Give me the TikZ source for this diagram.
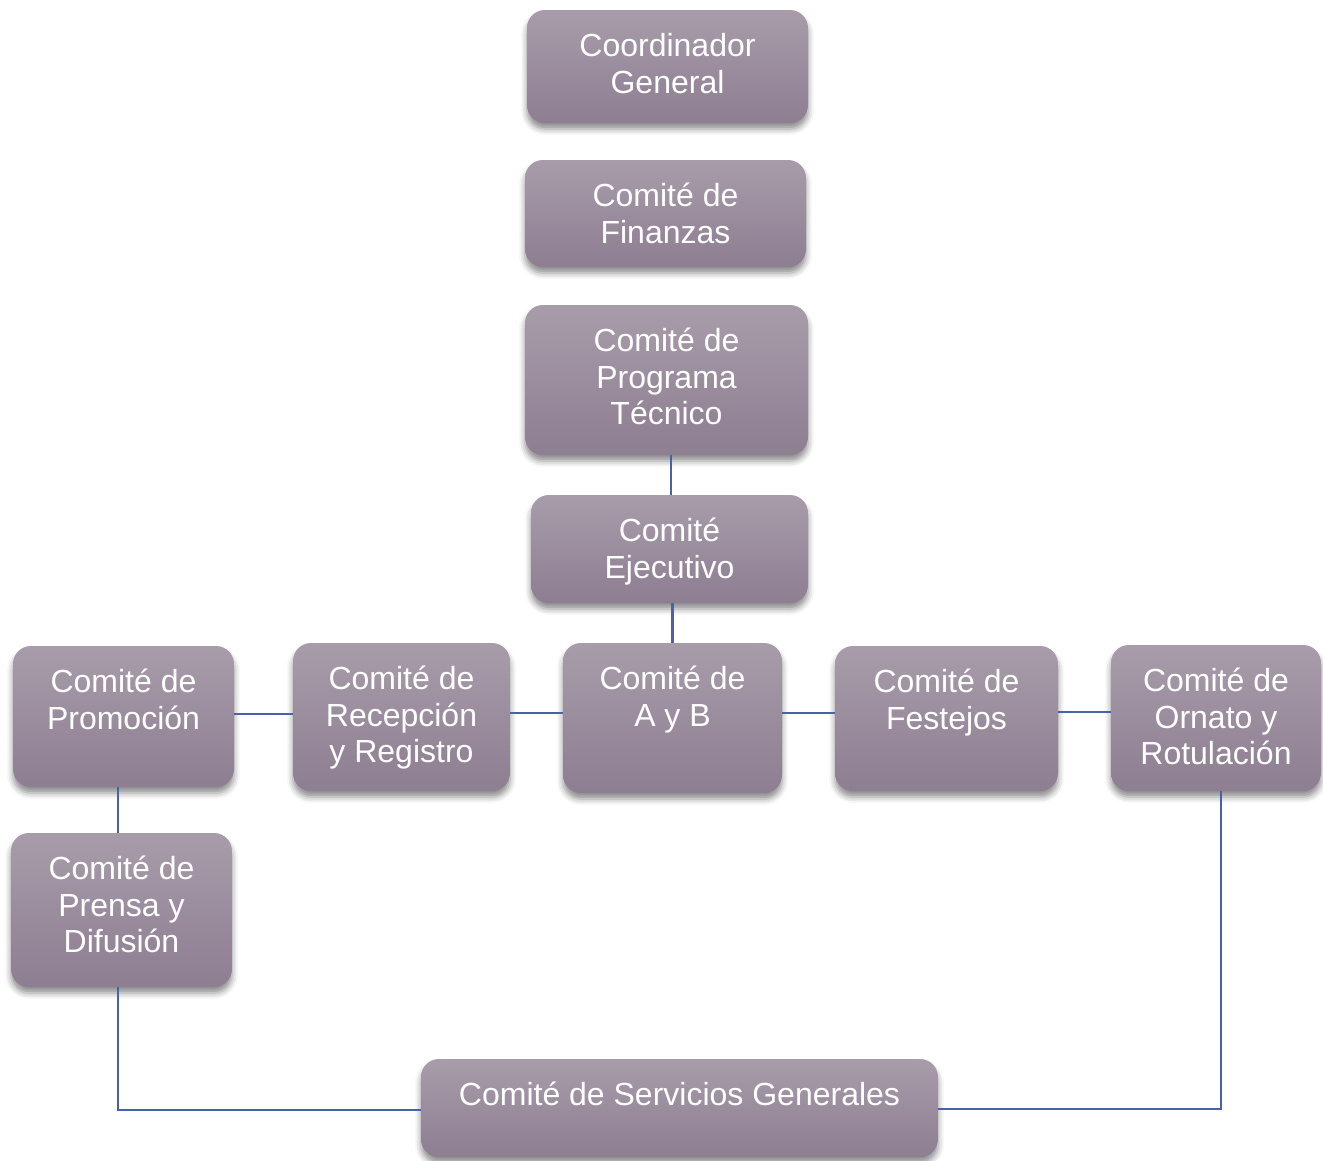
\documentclass[tikz,border=0pt]{standalone}
\usepackage{fontspec}
\setmainfont{Liberation Sans}
\usetikzlibrary{shadows.blur}
\definecolor{boxtop}{HTML}{A89CAA}
\definecolor{boxbot}{HTML}{8D7E91}
\definecolor{linkblue}{HTML}{4862AA}
\newcommand\boxtxt[3]{\parbox[c][#2pt][t]{#1pt}{\centering\vspace*{21pt}\strut #3\par}}
\tikzset{
  orgbox/.style={draw=none, rounded corners=18pt, inner sep=0pt, outer sep=0pt,
    top color=boxtop, bottom color=boxbot, text=white,
    font=\fontsize{32}{36.5}\selectfont,
    blur shadow={shadow xshift=0pt, shadow yshift=-6pt, shadow blur radius=6pt, shadow opacity=45}},
  link/.style={draw=linkblue, line width=2.2pt}
}
\begin{document}
\begin{tikzpicture}[x=1pt,y=-1pt]
\useasboundingbox (0,0) rectangle (1323,1160);
\node[orgbox] (coord) at (667.5,66.5) {\boxtxt{281}{113}{Coordinador\\General}};
\node[orgbox] (fin) at (665.5,213.5) {\boxtxt{281}{107}{Comité de\\Finanzas}};
\node[orgbox] (prog) at (666.5,380) {\boxtxt{283}{150}{Comité de\\Programa\\Técnico}};
\node[orgbox] (ejec) at (669.5,549) {\boxtxt{277}{108}{Comité\\Ejecutivo}};
\node[orgbox] (prom) at (123.5,716.5) {\boxtxt{221}{141}{Comité de\\Promoción}};
\node[orgbox] (rec) at (401.5,717) {\boxtxt{217}{148}{Comité de\\Recepción\\y Registro}};
\node[orgbox] (ayb) at (672.5,718) {\boxtxt{219}{150}{Comité de\\A y B}};
\node[orgbox] (fest) at (946.5,718.5) {\boxtxt{223}{145}{Comité de\\Festejos}};
\node[orgbox] (orn) at (1216,718) {\boxtxt{210}{146}{Comité de\\Ornato y\\Rotulación}};
\node[orgbox] (prensa) at (121.5,910) {\boxtxt{221}{154}{Comité de\\Prensa y\\Difusión}};
\node[orgbox] (serv) at (679.5,1108) {\boxtxt{517}{98}{Comité de Servicios Generales}};
\draw[link] ([xshift=4.5pt]prog.south) -- ([xshift=1.5pt]ejec.north);
\draw[link] (ayb.north |- ejec.south) -- (ayb.north);
\draw[link] ([yshift=2.5pt]prom.east) -- ([yshift=2.5pt]prom.east -| rec.west);
\draw[link] ([yshift=4pt]rec.east) -- ([yshift=4pt]rec.east -| ayb.west);
\draw[link] ([yshift=5pt]ayb.east) -- ([yshift=5pt]ayb.east -| fest.west);
\draw[link] ([yshift=6.5pt]fest.east) -- ([yshift=6.5pt]fest.east -| orn.west);
\draw[link] ([xshift=-5.5pt]prom.south) -- ([xshift=-3.5pt]prensa.north);
\draw[link] ([xshift=-3.5pt]prensa.south) |- ([yshift=-2pt]serv.west);
\draw[link] ([xshift=5pt]orn.south) |- ([yshift=-1pt]serv.east);
\end{tikzpicture}
\end{document}
